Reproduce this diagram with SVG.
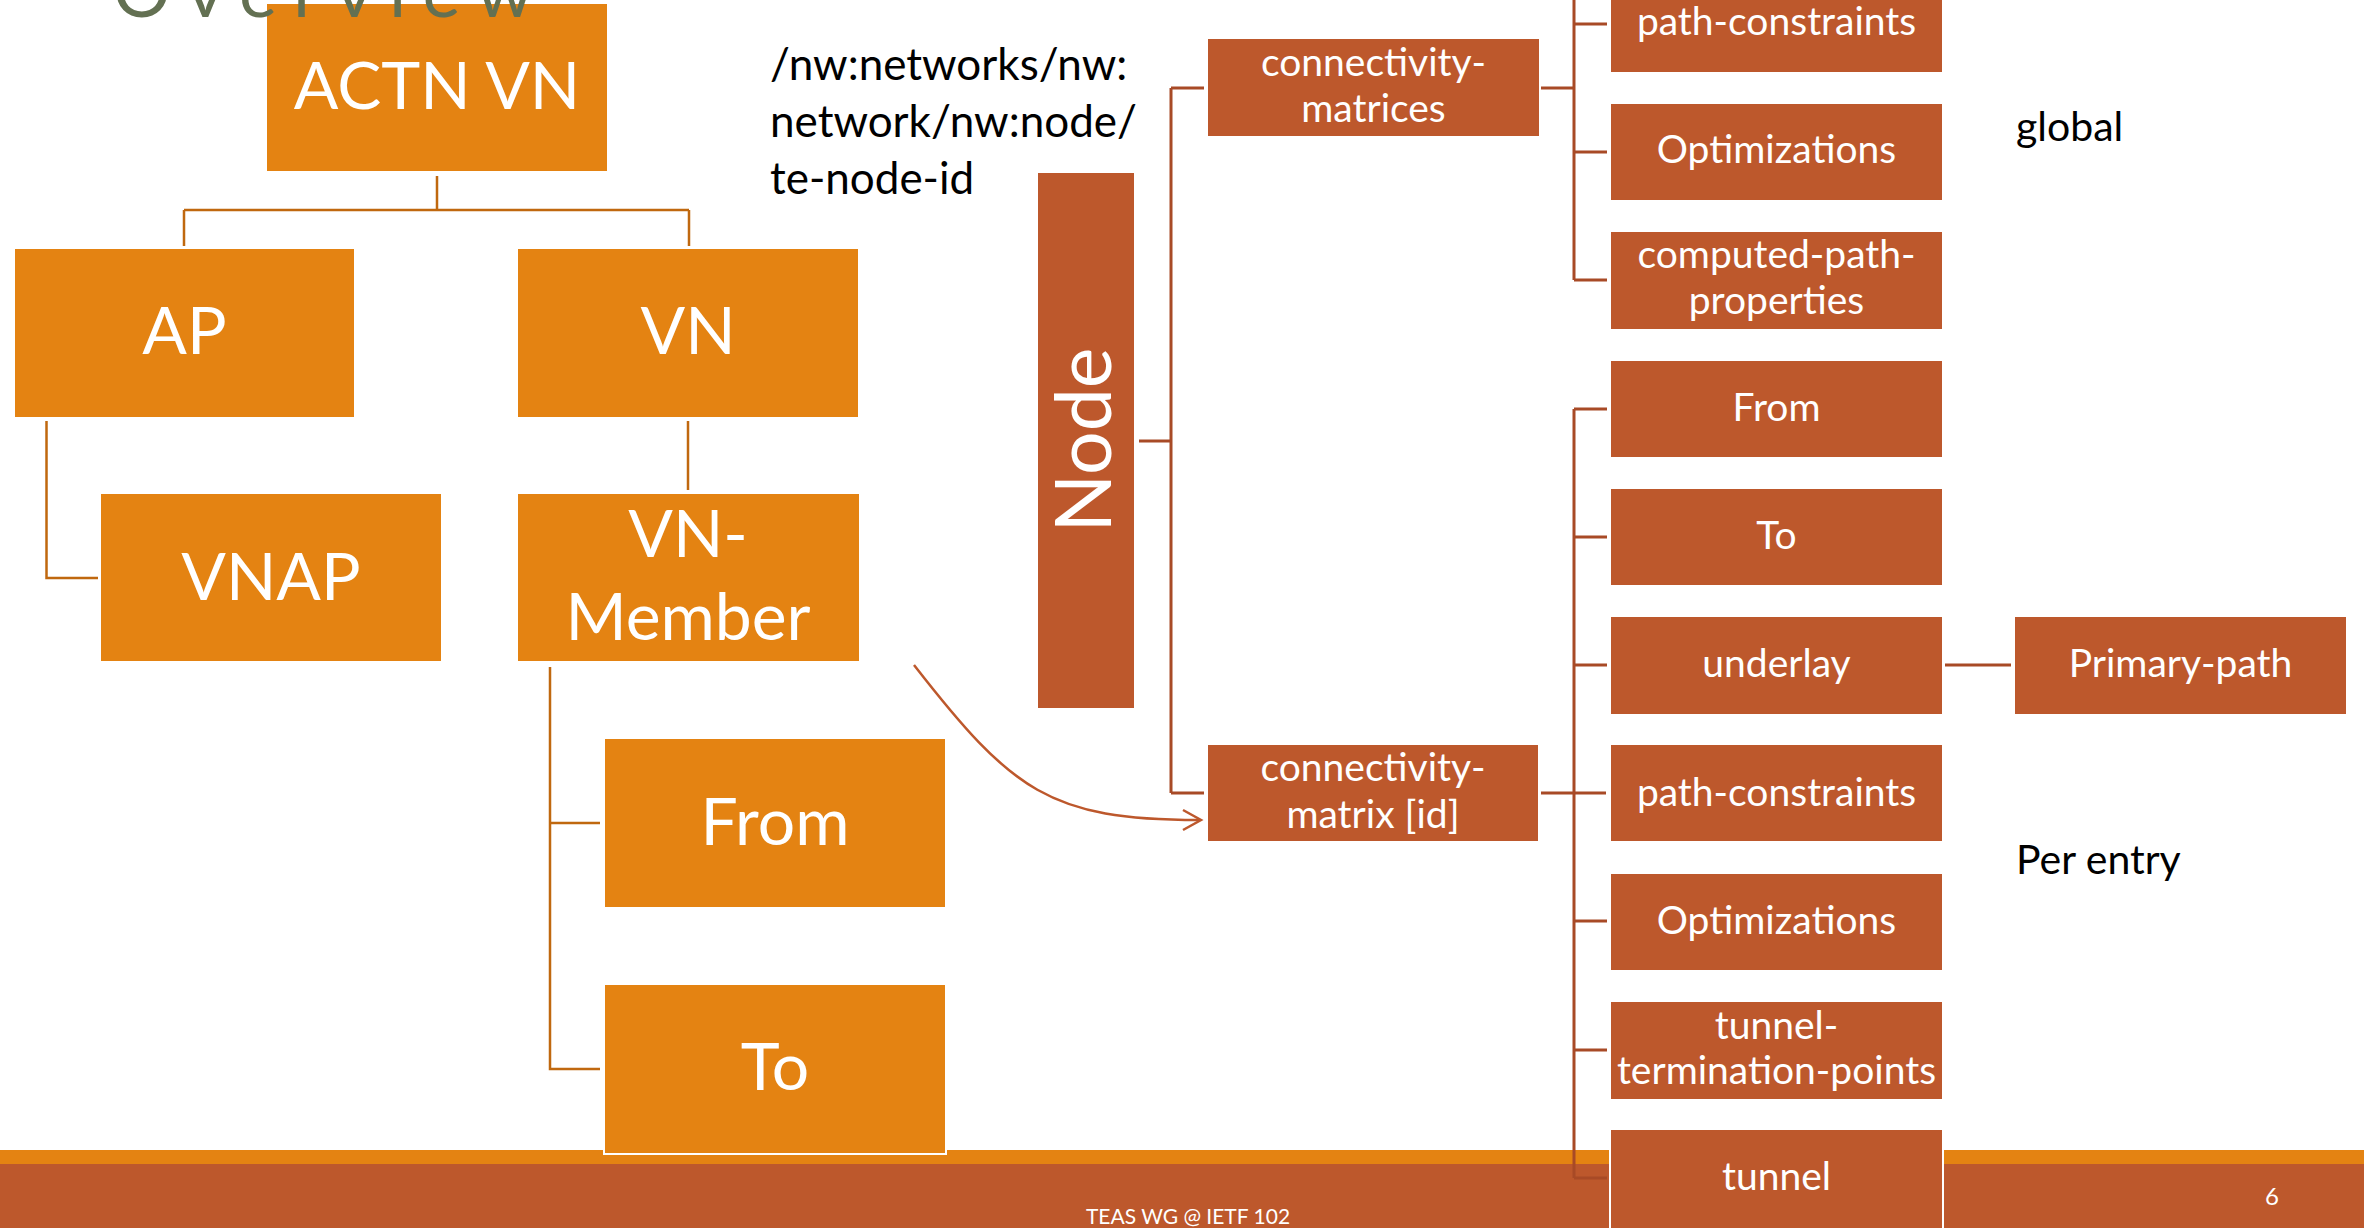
<svg xmlns="http://www.w3.org/2000/svg" width="2364" height="1228" viewBox="0 0 2364 1228">
<style>
.o{fill:#E48312;stroke:#fff;stroke-width:2}
.d{fill:#BD582C;stroke:#fff;stroke-width:2}
.big{font-family:Lato,"Liberation Sans",sans-serif;font-size:66px;fill:#fff;text-anchor:middle}
.sm{font-family:Lato,"Liberation Sans",sans-serif;font-size:39px;fill:#fff;text-anchor:middle}
.blk{font-family:Lato,"Liberation Sans",sans-serif;fill:#000}
.cl{fill:none;stroke:#C0680F;stroke-width:2.5}
.cr{fill:none;stroke:#A84A26;stroke-width:3}
</style>
<rect width="2364" height="1228" fill="#fff"/>
<g id="footer">
<rect x="0" y="1150" width="2364" height="15" fill="#E48312"/>
<rect x="0" y="1164" width="2364" height="64" fill="#BD582C"/>
<text x="1188" y="1224" font-family="Lato,'Liberation Sans',sans-serif" font-size="21" fill="#fff" text-anchor="middle">TEAS WG @ IETF 102</text>
<text x="2272" y="1205" font-family="Lato,'Liberation Sans',sans-serif" font-size="24" fill="#fff" text-anchor="middle">6</text>
</g>
<g id="labels">
<text class="blk" font-size="44" x="770" y="80">/nw:networks/nw:</text>
<text class="blk" font-size="44" x="770" y="137">network/nw:node/</text>
<text class="blk" font-size="44" x="770" y="194">te-node-id</text>
<text class="blk" font-size="41" x="2016" y="141">global</text>
<text class="blk" font-size="41" x="2016" y="874">Per entry</text>
</g>
<g id="connectors">
<path class="cl" d="M437,176 V210 M184,210 H689 M184,210 V246 M689,210 V246"/>
<path class="cl" d="M46.5,421 V578 H98"/>
<path class="cl" d="M688,421 V490"/>
<path class="cl" d="M550,667 V1069 H600 M550,823 H600"/>
<path class="cr" d="M1139,441 H1171 M1171,88 V793 M1171,88 H1204 M1171,793 H1204"/>
<path class="cr" d="M1541,88 H1574 M1574,0 V280 M1574,24 H1607 M1574,152 H1607 M1574,280 H1607"/>
<path class="cr" d="M1541,793 H1606 M1574,409 V1178 M1574,409 H1607 M1574,537 H1607 M1574,665 H1607 M1574,921 H1607 M1574,1050 H1607 M1574,1178 H1607"/>
<path class="cr" d="M1945,665 H2011"/>
<path fill="none" stroke="#BD582C" stroke-width="2.5" d="M914,665 C1012,791 1050,820 1199,820"/>
<polyline fill="none" stroke="#BD582C" stroke-width="2.5" points="1183,810 1201,820 1183,830"/>
</g>
<g id="actn-vn"><rect class="o" x="266" y="3" width="342" height="169"/><text class="big" x="437" y="109">ACTN VN</text></g>
<g id="ap"><rect class="o" x="14" y="248" width="341" height="170"/><text class="big" x="184.5" y="354">AP</text></g>
<g id="vn"><rect class="o" x="517" y="248" width="342" height="170"/><text class="big" x="688" y="354">VN</text></g>
<g id="vnap"><rect class="o" x="100" y="493" width="342" height="169"/><text class="big" x="271" y="600">VNAP</text></g>
<g id="vn-member"><rect class="o" x="517" y="493" width="343" height="169"/><text class="big" x="688" y="557">VN-</text><text class="big" x="688" y="640">Member</text></g>
<g id="from-left"><rect class="o" x="604" y="738" width="342" height="170"/><text class="big" x="775" y="845">From</text></g>
<g id="to-left"><rect class="o" x="604" y="984" width="342" height="170" stroke-width="3"/><text class="big" x="775" y="1090">To</text></g>
<g id="node"><rect class="d" x="1037" y="172" width="98" height="537"/><text x="0" y="0" transform="translate(1111,440) rotate(-90)" font-family="Lato,'Liberation Sans',sans-serif" font-size="77" fill="#fff" text-anchor="middle">Node</text></g>
<g id="connectivity-matrices"><rect class="d" x="1207" y="38" width="333" height="99"/><text class="sm" x="1373.5" y="76">connectivity-</text><text class="sm" x="1373.5" y="122">matrices</text></g>
<g id="connectivity-matrix"><rect class="d" x="1207" y="744" width="332" height="98"/><text class="sm" x="1373" y="781">connectivity-</text><text class="sm" x="1373" y="828">matrix [id]</text></g>
<g id="g-path-constraints"><rect class="d" x="1610" y="-25" width="333" height="98"/><text class="sm" x="1776.5" y="35">path-constraints</text></g>
<g id="g-optimizations"><rect class="d" x="1610" y="103" width="333" height="98"/><text class="sm" x="1776.5" y="163">Optimizations</text></g>
<g id="computed-path-properties"><rect class="d" x="1610" y="231" width="333" height="99"/><text class="sm" x="1776.5" y="268">computed-path-</text><text class="sm" x="1776.5" y="314">properties</text></g>
<g id="e-from"><rect class="d" x="1610" y="360" width="333" height="98"/><text class="sm" x="1776.5" y="421">From</text></g>
<g id="e-to"><rect class="d" x="1610" y="488" width="333" height="98"/><text class="sm" x="1776.5" y="549">To</text></g>
<g id="e-underlay"><rect class="d" x="1610" y="616" width="333" height="99"/><text class="sm" x="1776.5" y="677">underlay</text></g>
<g id="e-path-constraints"><rect class="d" x="1610" y="744" width="333" height="98"/><text class="sm" x="1776.5" y="806">path-constraints</text></g>
<g id="e-optimizations"><rect class="d" x="1610" y="873" width="333" height="98"/><text class="sm" x="1776.5" y="934">Optimizations</text></g>
<g id="e-ttp"><rect class="d" x="1610" y="1001" width="333" height="99"/><text class="sm" x="1776.5" y="1039">tunnel-</text><text class="sm" x="1776.5" y="1084">termination-points</text></g>
<g id="e-tunnel"><rect class="d" x="1610" y="1129" width="333" height="102" stroke-width="3"/><text class="sm" x="1776.5" y="1190">tunnel</text></g>
<g id="primary-path"><rect class="d" x="2014" y="616" width="333" height="99"/><text class="sm" x="2180.5" y="677">Primary-path</text></g>
<text id="title" x="113" y="17" font-family="Lato,'Liberation Sans',sans-serif" font-size="72" fill="#637052" textLength="420" lengthAdjust="spacing">Overview</text>
</svg>
